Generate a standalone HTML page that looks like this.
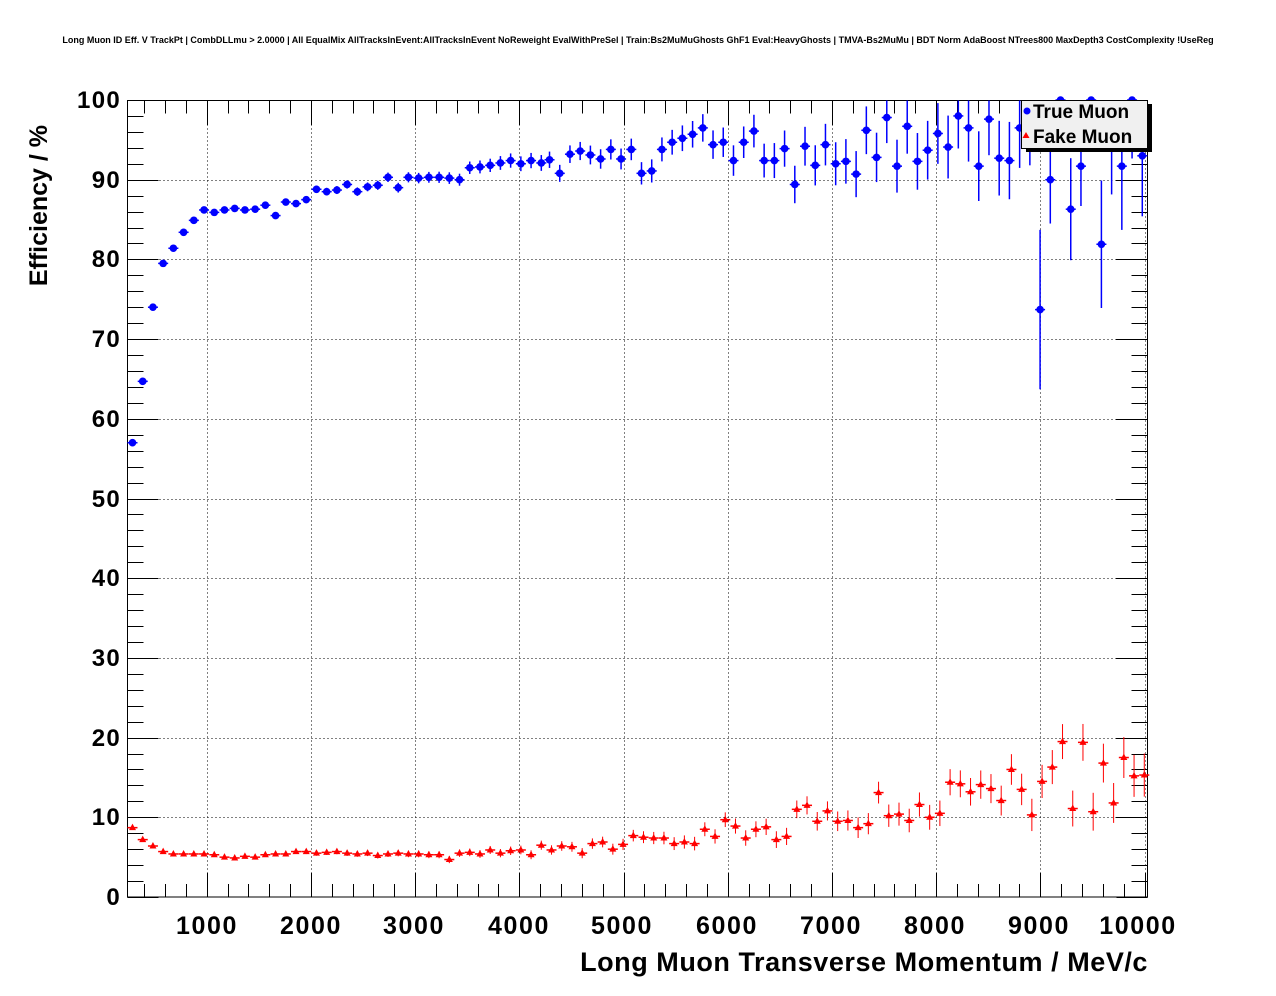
<!DOCTYPE html>
<html><head><meta charset="utf-8"><style>
html,body{margin:0;padding:0;background:#fff;}
svg{display:block;font-family:"Liberation Sans",Arial,sans-serif;}
</style></head><body>
<svg id="s" width="1276" height="996" viewBox="0 0 1276 996" xmlns="http://www.w3.org/2000/svg">
<rect width="1276" height="996" fill="#fff"/>
<text x="638" y="43" font-size="9" font-weight="bold" text-anchor="middle">Long Muon ID Eff. V TrackPt | CombDLLmu &gt; 2.0000 | All EqualMix AllTracksInEvent:AllTracksInEvent NoReweight EvalWithPreSel | Train:Bs2MuMuGhosts GhF1 Eval:HeavyGhosts | TMVA-Bs2MuMu | BDT Norm AdaBoost NTrees800 MaxDepth3 CostComplexity !UseReg</text>
<g id="grid" stroke="#000" stroke-width="1" stroke-dasharray="1,3" fill="none"></g>
<g id="ticks" stroke="#000" stroke-width="1" fill="none"></g>
<rect x="127.5" y="100.5" width="1020" height="796.5" fill="none" stroke="#000" stroke-width="1"/>
<g font-size="24" font-weight="bold" text-anchor="end" letter-spacing="1.3">
<text x="121" y="905">0</text><text x="121" y="825">10</text><text x="121" y="746">20</text><text x="121" y="666">30</text><text x="121" y="586">40</text><text x="121" y="507">50</text><text x="121" y="427">60</text><text x="121" y="347">70</text><text x="121" y="267">80</text><text x="121" y="188">90</text><text x="121" y="108">100</text>
</g>
<g font-size="25" font-weight="bold" text-anchor="middle" letter-spacing="1.6">
<text x="207" y="934">1000</text><text x="311" y="934">2000</text><text x="414" y="934">3000</text><text x="519" y="934">4000</text><text x="622" y="934">5000</text><text x="727" y="934">6000</text><text x="831" y="934">7000</text><text x="935" y="934">8000</text><text x="1039" y="934">9000</text><text x="1138" y="934">10000</text>
</g>
<text x="1148" y="971" font-size="27" font-weight="bold" text-anchor="end" letter-spacing="0.55">Long Muon Transverse Momentum / MeV/c</text>
<text transform="translate(47,125) rotate(-90)" font-size="25" font-weight="bold" text-anchor="end">Efficiency / %</text>
<g id="red" stroke="#f00" fill="#f00"></g>
<g id="blue" stroke="#00f" fill="#00f"></g>
<rect x="1026" y="104" width="126" height="48" fill="#000"/>
<rect x="1021.5" y="100.5" width="126" height="48" fill="#f0f0f0" stroke="#000"/>
<circle cx="1027" cy="111" r="3.5" fill="#00f"/>
<polygon points="1026,132 1029.5,138 1022.5,138" fill="#f00"/>
<text x="1033" y="118" font-size="19" font-weight="bold">True Muon</text>
<text x="1033" y="143" font-size="19" font-weight="bold">Fake Muon</text>
</svg>
<script>
var NS="http://www.w3.org/2000/svg";
function el(p,t,a){var e=document.createElementNS(NS,t);for(var k in a)e.setAttribute(k,a[k]);p.appendChild(e);return e;}
var L=127.5,R=1147.5,T=100.5,B=897;
function Y(v){return 897-v*7.97;}
function X(m){return 102.5+m*0.1042;}
var g=document.getElementById('grid'),tk=document.getElementById('ticks');
for(var v=10;v<100;v+=10){var y=Math.round(Y(v))+0.5;el(g,'line',{x1:L,x2:R,y1:y,y2:y});}
for(var m=1000;m<=10000;m+=1000){var x=Math.round(X(m))+0.5;el(g,'line',{x1:x,x2:x,y1:T,y2:B});}
for(var v=0;v<=100;v+=2){var y=Math.round(Y(v))+0.5;var len=(v%10==0)?31:16;
 el(tk,'line',{x1:L,x2:L+len,y1:y,y2:y});el(tk,'line',{x1:R,x2:R-len,y1:y,y2:y});}
for(var m=400;m<=10000;m+=200){var x=Math.round(X(m))+0.5;var len=(m%1000==0)?24:13;
 el(tk,'line',{x1:x,x2:x,y1:B,y2:B-len});el(tk,'line',{x1:x,x2:x,y1:T,y2:T+len});}
var blue=[57.0,64.7,74.0,79.5,81.4,83.4,84.9,86.2,85.9,86.2,86.4,86.2,86.3,86.8,85.5,87.2,87.0,87.5,88.8,88.5,88.7,89.4,88.5,89.1,89.3,90.3,89.0,90.3,90.2,90.3,90.3,90.2,90.0,91.5,91.6,91.8,92.1,92.4,92.0,92.4,92.1,92.5,90.8,93.2,93.6,93.1,92.6,93.8,92.6,93.8,90.8,91.1,93.8,94.7,95.2,95.7,96.5,94.4,94.7,92.4,94.7,96.1,92.4,92.4,93.9,89.4,94.2,91.8,94.4,92.0,92.3,90.7,96.2,92.8,97.8,91.7,96.7,92.3,93.7,95.8,94.1,98.0,96.5,91.7,97.6,92.7,92.4,96.5,97,73.7,90.0,100,86.3,91.7,100,81.9,95,91.7,100,93];
var bErr={89:10,92:6.4,95:8,90:5.5,93:5,97:8};
var red=[8.7,7.2,6.4,5.7,5.4,5.4,5.4,5.4,5.3,5.0,4.9,5.1,5.0,5.3,5.4,5.4,5.7,5.7,5.5,5.6,5.7,5.5,5.4,5.5,5.2,5.4,5.5,5.4,5.4,5.3,5.3,4.7,5.5,5.6,5.4,5.9,5.5,5.8,5.9,5.3,6.5,5.9,6.4,6.3,5.5,6.7,6.9,6.0,6.6,7.7,7.5,7.4,7.4,6.7,6.9,6.7,8.5,7.6,9.7,8.9,7.4,8.5,8.8,7.2,7.6,11.0,11.5,9.5,10.8,9.5,9.6,8.7,9.2,13.1,10.2,10.4,9.6,11.6,10.0,10.5,14.4,14.2,13.2,14.1,13.6,12.1,16.0,13.5,10.3,14.5,16.3,19.5,11.1,19.4,10.7,16.8,11.8,17.5,15.2,15.3];
var rg=document.getElementById('red'),bg=document.getElementById('blue');
function cx(i){return 132.5+10.22*i;}
for(var i=0;i<red.length;i++){var x=cx(i),y=Y(red[i]),e=0.2*Math.exp(i/38)*7.97;
 el(rg,'line',{x1:x,x2:x,y1:Math.max(T,y-e),y2:Math.min(B,y+e),'stroke-width':1});
 el(rg,'line',{x1:x-5,x2:x+5,y1:y,y2:y,'stroke-width':1.5});
 el(rg,'polygon',{points:(x)+','+(y-4)+' '+(x+3.5)+','+(y+2.5)+' '+(x-3.5)+','+(y+2.5),stroke:'none'});}
for(var i=0;i<blue.length;i++){var x=cx(i)-(i>40?2:0),y=Y(blue[i]);var e=(bErr[i]!==undefined?bErr[i]:0.25*Math.exp(i/29))*7.97;
 el(bg,'line',{x1:x,x2:x,y1:Math.max(T,y-e),y2:Math.min(B,y+e),'stroke-width':1.5});
 el(bg,'line',{x1:x-5,x2:x+5,y1:y,y2:y,'stroke-width':1.5});
 el(bg,'circle',{cx:x,cy:y,r:3.8,stroke:'none'});}
</script>
</body></html>
